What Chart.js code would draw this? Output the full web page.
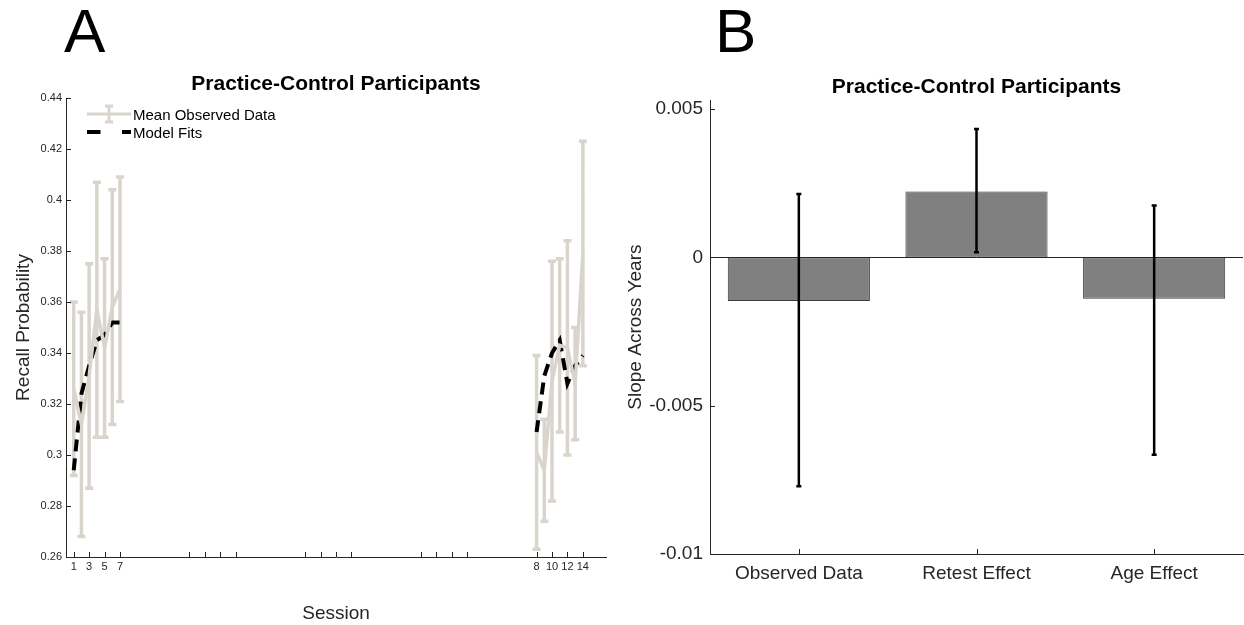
<!DOCTYPE html>
<html>
<head>
<meta charset="utf-8">
<script src="https://cdn.jsdelivr.net/npm/chart.js@4.4.1/dist/chart.umd.min.js"></script>
<style>
  html, body { margin: 0; padding: 0; background: #fff; }
  body { width: 1244px; height: 625px; position: relative; overflow: hidden; font-family: "Liberation Sans", Arial, sans-serif; }
  .panel { position: absolute; top: 0; width: 622px; height: 625px; }
  .letter { position: absolute; top: 0; font-size: 62px; line-height: 1; color: #000; }
</style>
</head>
<body>
<div class="panel" style="left:0"><canvas id="chartA"></canvas></div>
<div class="panel" style="left:622px"><canvas id="chartB"></canvas></div>
<div class="letter" style="left:64px">A</div>
<div class="letter" style="left:715px">B</div>

<script>
// ---- datos panel A (probabilidad de recuerdo por sesion)
const sessionX = [1, 2, 3, 4, 5, 6, 7, 61, 62, 63, 64, 65, 66, 67];
const obsMean = [0.326, 0.312, 0.331, 0.357, 0.342, 0.358, 0.365, 0.301, 0.294, 0.329, 0.343, 0.342, 0.328, 0.379];
const obsErr = [0.034, 0.044, 0.044, 0.050, 0.035, 0.046, 0.044, 0.038, 0.020, 0.047, 0.034, 0.042, 0.022, 0.044];
const modelFit = [0.294, 0.324, 0.335, 0.345, 0.347, 0.352, 0.352, 0.309, 0.331, 0.340, 0.345, 0.328, 0.335, 0.339];
const sessionTicks = [1, 3, 5, 7, 16, 18, 20, 22, 31, 33, 35, 37, 46, 48, 50, 52, 61, 63, 65, 67];
const sessionTickLabels = ['1', '3', '5', '7', '', '', '', '', '', '', '', '', '', '', '', '', '8', '10', '12', '14'];
const recallTicks = [0.26, 0.28, 0.30, 0.32, 0.34, 0.36, 0.38, 0.40, 0.42, 0.44];

// ---- datos panel B (pendientes)
const effectNames = ['Observed Data', 'Retest Effect', 'Age Effect'];
const slopeValues = [-0.00147, 0.00222, -0.00139];
const slopeLow = [-0.00772, 0.00017, -0.00665];
const slopeHigh = [0.00214, 0.00433, 0.00175];
const slopeTicks = [-0.01, -0.005, 0, 0.005];
const slopeTickLabels = ['-0.01', '-0.005', '0', '0.005'];

const FONT = '"Liberation Sans", Arial, Helvetica, sans-serif';
const AXIS = '#262626';
const OBS_GRAY = '#d9d5cd';
Chart.defaults.font.family = FONT;
Chart.defaults.color = AXIS;

// marcas de eje hacia dentro (estilo matlab)
const inwardTicks = {
  id: 'inwardTicks',
  afterDraw(chart) {
    const ctx = chart.ctx;
    const xs = chart.scales.x, ys = chart.scales.y;
    const a = chart.chartArea;
    ctx.save();
    ctx.strokeStyle = AXIS;
    ctx.lineWidth = 1;
    ctx.beginPath();
    xs.ticks.forEach((t, i) => {
      const px = Math.round(xs.getPixelForTick(i)) + 0.5;
      ctx.moveTo(px, a.bottom);
      ctx.lineTo(px, a.bottom - 5);
    });
    ys.ticks.forEach((t, i) => {
      const py = Math.round(ys.getPixelForTick(i)) + 0.5;
      ctx.moveTo(a.left, py);
      ctx.lineTo(a.left + 5, py);
    });
    ctx.stroke();
    ctx.restore();
  }
};

// barras de error grises + leyenda del panel A
const panelAExtras = {
  id: 'panelAExtras',
  beforeDatasetsDraw(chart) {
    const ctx = chart.ctx;
    const xs = chart.scales.x, ys = chart.scales.y;
    ctx.save();
    ctx.strokeStyle = OBS_GRAY;
    ctx.lineWidth = 3.5;
    ctx.beginPath();
    sessionX.forEach((s, i) => {
      const x = xs.getPixelForValue(s);
      const yt = ys.getPixelForValue(obsMean[i] + obsErr[i]);
      const yb = ys.getPixelForValue(obsMean[i] - obsErr[i]);
      ctx.moveTo(x, yt); ctx.lineTo(x, yb);
      ctx.moveTo(x - 4, yt); ctx.lineTo(x + 4, yt);
      ctx.moveTo(x - 4, yb); ctx.lineTo(x + 4, yb);
    });
    ctx.stroke();
    ctx.restore();
  },
  afterDraw(chart) {
    const ctx = chart.ctx;
    const a = chart.chartArea;
    const lx = a.left + 21, ly = a.top + 16;
    ctx.save();
    // observado
    ctx.strokeStyle = OBS_GRAY;
    ctx.lineWidth = 3;
    ctx.beginPath();
    ctx.moveTo(lx, ly); ctx.lineTo(lx + 44, ly);
    ctx.moveTo(lx + 22, ly - 8); ctx.lineTo(lx + 22, ly + 8);
    ctx.moveTo(lx + 18, ly - 8); ctx.lineTo(lx + 26, ly - 8);
    ctx.moveTo(lx + 18, ly + 8); ctx.lineTo(lx + 26, ly + 8);
    ctx.stroke();
    // modelo
    ctx.strokeStyle = '#000';
    ctx.lineWidth = 4;
    ctx.setLineDash([13.5, 21.5]);
    ctx.beginPath();
    ctx.moveTo(lx, ly + 18); ctx.lineTo(lx + 44, ly + 18);
    ctx.stroke();
    ctx.setLineDash([]);
    ctx.fillStyle = '#000';
    ctx.font = '15px ' + FONT;
    ctx.textBaseline = 'alphabetic';
    ctx.fillText('Mean Observed Data', lx + 46, ly + 6);
    ctx.fillText('Model Fits', lx + 46, ly + 24);
    ctx.restore();
  }
};

// linea base y barras de error negras del panel B
const panelBExtras = {
  id: 'panelBExtras',
  afterDatasetsDraw(chart) {
    const ctx = chart.ctx;
    const xs = chart.scales.x, ys = chart.scales.y;
    const a = chart.chartArea;
    ctx.save();
    const y0 = Math.round(ys.getPixelForValue(0)) + 0.5;
    ctx.strokeStyle = AXIS;
    ctx.lineWidth = 1;
    ctx.beginPath();
    ctx.moveTo(a.left, y0); ctx.lineTo(a.right, y0);
    ctx.stroke();
    ctx.strokeStyle = '#000';
    ctx.lineWidth = 2.5;
    ctx.beginPath();
    effectNames.forEach((n, i) => {
      const x = xs.getPixelForValue(i);
      const yt = ys.getPixelForValue(slopeHigh[i]);
      const yb = ys.getPixelForValue(slopeLow[i]);
      ctx.moveTo(x, yt); ctx.lineTo(x, yb);
      ctx.moveTo(x - 2.5, yt); ctx.lineTo(x + 2.5, yt);
      ctx.moveTo(x - 2.5, yb); ctx.lineTo(x + 2.5, yb);
    });
    ctx.stroke();
    ctx.restore();
  }
};

const pts = (vals, from, to) => sessionX.slice(from, to).map((s, k) => ({ x: s, y: vals[from + k] }));
const obsStyle = { borderColor: OBS_GRAY, borderWidth: 3.5, pointRadius: 0, tension: 0, fill: false };
const fitStyle = { borderColor: '#000', borderWidth: 4, borderDash: [12, 7], pointRadius: 0, tension: 0, fill: false };
const noGrid = { display: false, drawTicks: false };

new Chart(document.getElementById('chartA'), {
  type: 'line',
  data: {
    datasets: [
      Object.assign({ label: 'Mean Observed Data', data: pts(obsMean, 0, 7) }, obsStyle),
      Object.assign({ label: 'Mean Observed Data', data: pts(obsMean, 7, 14) }, obsStyle),
      Object.assign({ label: 'Model Fits', data: pts(modelFit, 0, 7) }, fitStyle),
      Object.assign({ label: 'Model Fits', data: pts(modelFit, 7, 14) }, fitStyle)
    ]
  },
  options: {
    responsive: true,
    maintainAspectRatio: false,
    animation: false,
    layout: { padding: { top: 71.5, left: 0, right: 16, bottom: 0 } },
    plugins: {
      legend: { display: false },
      tooltip: { enabled: false },
      title: {
        display: true, text: 'Practice-Control Participants', color: '#000', fullSize: false,
        font: { size: 21, weight: 'bold' }, padding: { top: 0, bottom: 1.3 }
      }
    },
    scales: {
      x: {
        type: 'linear', min: 0, max: 70,
        afterBuildTicks: s => { s.ticks = sessionTicks.map(v => ({ value: v })); },
        afterFit: s => { s.height = 68; },
        grid: noGrid,
        border: { display: true, color: AXIS, width: 1 },
        ticks: { autoSkip: false, maxRotation: 0, padding: 3, font: { size: 11 }, callback: (v, i) => sessionTickLabels[i] },
        title: { display: true, text: 'Session', font: { size: 19 }, padding: { top: 0, bottom: 0 } }
      },
      y: {
        min: 0.26, max: 0.44,
        afterBuildTicks: s => { s.ticks = recallTicks.map(v => ({ value: v })); },
        afterFit: s => { s.width = 66; },
        grid: noGrid,
        border: { display: true, color: AXIS, width: 1 },
        ticks: { padding: 4, font: { size: 11 }, callback: v => String(+v.toFixed(2)) },
        title: { display: true, text: 'Recall Probability', font: { size: 19 }, padding: { top: 12, bottom: 0 } }
      }
    }
  },
  plugins: [panelAExtras, inwardTicks]
});

new Chart(document.getElementById('chartB'), {
  type: 'bar',
  data: {
    labels: effectNames,
    datasets: [{
      label: 'Slope', data: slopeValues,
      backgroundColor: '#808080', borderColor: '#3a3a3a', borderWidth: 1, borderSkipped: false,
      barPercentage: 0.8, categoryPercentage: 1
    }]
  },
  options: {
    responsive: true,
    maintainAspectRatio: false,
    animation: false,
    layout: { padding: { top: 75, left: 0, right: 1, bottom: 0 } },
    plugins: {
      legend: { display: false },
      tooltip: { enabled: false },
      title: {
        display: true, text: 'Practice-Control Participants', color: '#000', fullSize: false,
        font: { size: 21, weight: 'bold' }, padding: { top: 0, bottom: 0 }
      }
    },
    scales: {
      x: {
        afterFit: s => { s.height = 71; },
        grid: noGrid,
        border: { display: true, color: AXIS, width: 1 },
        ticks: { padding: 8, font: { size: 19 } }
      },
      y: {
        min: -0.01, max: 0.0053,
        afterBuildTicks: s => { s.ticks = slopeTicks.map(v => ({ value: v })); },
        afterFit: s => { s.width = 88; },
        grid: noGrid,
        border: { display: true, color: AXIS, width: 1 },
        ticks: { padding: 7, font: { size: 19 }, callback: (v, i) => slopeTickLabels[i] },
        title: { display: true, text: 'Slope Across Years', font: { size: 19 }, padding: { top: 2, bottom: 0 } }
      }
    }
  },
  plugins: [panelBExtras, inwardTicks]
});
</script>
</body>
</html>
